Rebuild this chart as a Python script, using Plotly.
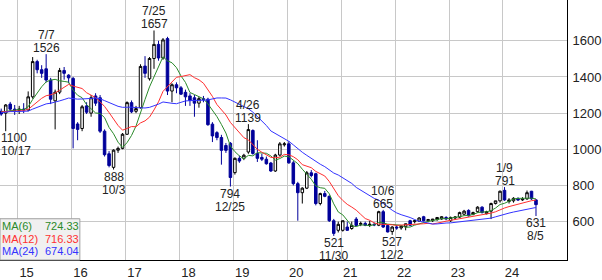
import plotly.graph_objects as go
import pandas as pd

# ---- data (monthly candles, Sep 2014 - Aug 2024) ----
months = pd.period_range("2014-09", "2024-08", freq="M").strftime("%Y-%m").tolist()

opens = [1210,1200,1250,1222,1215,1222,1218,1290,1485,1440,1445,1383,1268,1316,1436,1410,
         1392,1140,1115,1240,1200,1295,1285,1100,975,900,995,1005,1083,1258,1210,1230,
         1460,1390,1502,1580,1505,1612,1322,1357,1340,1315,1295,1285,1255,1280,1277,1139,
         1092,1065,1021,1033,871,950,950,985,1104,977,955,945,924,880,968,1025,
         1030,925,810,760,785,870,865,700,755,740,605,552,552,570,562,614,
         585,590,580,585,580,655,578,545,570,565,572,605,600,603,627,605,
         605,611,615,623,605,620,625,641,662,640,655,680,644,658,700,715,
         773,711,715,726,720,726,768,720]
highs = [1225,1250,1262,1245,1240,1255,1320,1510,1495,1465,1526,1395,1330,1450,1455,1415,
         1400,1150,1245,1260,1300,1310,1300,1110,990,1000,1015,1090,1265,1270,1240,1470,
         1515,1510,1657,1600,1615,1622,1365,1370,1350,1330,1310,1300,1290,1295,1285,1150,
         1100,1080,1035,1040,955,965,975,1139,1110,1050,975,960,930,975,1040,1040,
         1045,935,820,790,880,885,870,760,770,745,615,600,605,600,600,625,
         600,600,605,595,660,665,585,575,580,580,590,610,610,625,632,615,
         615,625,630,630,628,630,655,665,668,655,685,685,660,705,715,772,
         791,730,735,735,735,772,770,725]
lows = [1185,1100,1210,1190,1195,1200,1210,1280,1420,1395,1370,1250,1110,1305,1385,1365,
        1005,1050,1100,1195,1180,1240,1090,960,900,888,980,1000,1080,1200,1200,1225,
        1395,1380,1445,1490,1495,1300,1260,1310,1300,1240,1240,1180,1230,1260,1130,1040,
        1050,915,980,794,860,925,940,975,970,930,935,915,875,875,960,1015,
        920,800,605,700,780,845,690,690,735,598,521,540,545,550,555,575,
        575,575,570,575,575,565,540,527,555,555,552,575,590,598,600,600,
        598,605,610,608,598,612,620,635,628,635,650,645,640,614,695,705,
        715,700,705,715,715,720,720,631]
closes = [1195,1245,1222,1215,1222,1218,1290,1485,1440,1420,1383,1277,1316,1436,1420,1395,
          1115,1110,1235,1205,1285,1255,1100,970,910,995,1005,1083,1258,1207,1225,1458,
          1420,1502,1580,1505,1605,1322,1357,1340,1305,1290,1270,1255,1280,1275,1136,1074,
          1065,994,994,844,950,935,967,1109,977,950,945,920,880,968,1030,1030,
          925,810,760,785,870,855,700,755,740,605,535,585,605,552,579,579,
          590,580,585,582,655,570,543,570,565,575,588,580,605,620,605,611,
          614,623,627,615,623,625,650,658,632,650,680,650,655,700,715,768,
          720,720,729,720,725,760,726,694]

# closes before the visible window (Oct 2012 - Aug 2014), used only for the moving averages
pre_closes = [1150,1180,1210,1190,1230,1250,1220,1200,1180,1170,1190,1210,
              1230,1240,1200,1180,1190,1210,1220,1200,1190,1210,1220]

# high / low labels: (index, value text, date text)
hi_labels = [(10, "1526", "7/7"), (34, "1657", "7/25"), (55, "1139", "4/26"),
             (85, "665", "10/6"), (112, "791", "1/9")]
lo_labels = [(1, "1100", "10/17"), (25, "888", "10/3"), (51, "794", "12/25"),
             (74, "521", "11/30"), (87, "527", "12/2"), (119, "631", "8/5")]

ma_periods = [6, 12, 24]
ma_colors = ["#2a8a2a", "#ff3030", "#3333ff"]
ma_legend_values = ["724.33", "716.33", "674.04"]

year_labels = ["15", "16", "17", "18", "19", "20", "21", "22", "23", "24"]
y_ticks = [600, 800, 1000, 1200, 1400, 1600]

# ---- figure ----
x = list(range(len(months)))
all_closes = pd.Series(pre_closes + closes)
n_pre = len(pre_closes)

fig = go.Figure()

for p, col in zip(ma_periods, ma_colors):
    ma = all_closes.rolling(p).mean().iloc[n_pre:].tolist()
    fig.add_trace(go.Scatter(x=x, y=ma, mode="lines",
                             line=dict(color=col, width=1), hoverinfo="skip"))

fig.add_trace(go.Candlestick(
    x=x, open=opens, high=highs, low=lows, close=closes,
    increasing=dict(line=dict(color="#000000", width=1), fillcolor="#ffffff"),
    decreasing=dict(line=dict(color="#00009a", width=1), fillcolor="#00009a"),
    whiskerwidth=0, hoverinfo="skip"))

FONT = "Liberation Sans, Arial, sans-serif"
txt_font = dict(family=FONT, size=12, color="#222222")
PITCH = 13

for i, val, dt in hi_labels:
    fig.add_annotation(x=i, y=highs[i], text=val, showarrow=False, yanchor="bottom",
                       yshift=-2, font=txt_font, borderpad=0)
    fig.add_annotation(x=i, y=highs[i], text=dt, showarrow=False, yanchor="bottom",
                       yshift=-2 + PITCH, font=txt_font, borderpad=0)
for i, val, dt in lo_labels:
    pos = dict(x=i, xanchor="center")
    if i == 1:
        pos = dict(xref="paper", x=0, xanchor="left")
    fig.add_annotation(y=lows[i], text=val, showarrow=False, yanchor="top",
                       yshift=1, font=txt_font, borderpad=0, **pos)
    fig.add_annotation(y=lows[i], text=dt, showarrow=False, yanchor="top",
                       yshift=1 - PITCH, font=txt_font, borderpad=0, **pos)

# MA legend box (bottom-left)
PW, PH = 568, 271
fig.add_shape(type="rect", xref="paper", yref="paper",
              x0=0, x1=80 / PW, y0=0, y1=1 - 228 / PH,
              fillcolor="#f0f0f0", line=dict(color="#a0a0a0", width=1), layer="above")
for k, (p, col, v) in enumerate(zip(ma_periods, ma_colors, ma_legend_values)):
    yc = 1 - (235.5 + 13.3 * k) / PH
    fig.add_annotation(xref="paper", yref="paper", x=1 / PW, y=yc, text=f"MA({p})",
                       showarrow=False, xanchor="left", yanchor="middle", borderpad=0,
                       font=dict(family=FONT, size=11, color=col))
    fig.add_annotation(xref="paper", yref="paper", x=80 / PW, y=yc, text=v,
                       showarrow=False, xanchor="right", yanchor="middle", borderpad=0,
                       font=dict(family=FONT, size=11, color=col))

year_ticks = [3.65 + 12 * k for k in range(len(year_labels))]

fig.update_layout(
    width=602, height=280,
    margin=dict(l=0, r=34, t=0, b=9),
    paper_bgcolor="#ffffff", plot_bgcolor="#ffffff",
    showlegend=False, boxgap=0.2,
    xaxis=dict(range=[-0.27, 125.9], tickvals=year_ticks, ticktext=year_labels,
               showgrid=True, gridcolor="#c8c8c8", gridwidth=1,
               showline=True, linecolor="#000000", linewidth=1, mirror=False,
               ticks="", ticklabelshift=9, ticklabelstandoff=0,
               tickfont=dict(family=FONT, size=13, color="#222222"),
               rangeslider=dict(visible=False), zeroline=False, fixedrange=True),
    yaxis=dict(range=[387.8, 1825.5], tickvals=y_ticks, side="right",
               showgrid=True, gridcolor="#c8c8c8", gridwidth=1,
               showline=True, linecolor="#000000", linewidth=1,
               ticks="", ticklabelstandoff=2,
               tickfont=dict(family=FONT, size=13, color="#222222"),
               zeroline=False, fixedrange=True),
)

fig.write_html("out.html", config={"displayModeBar": False})
